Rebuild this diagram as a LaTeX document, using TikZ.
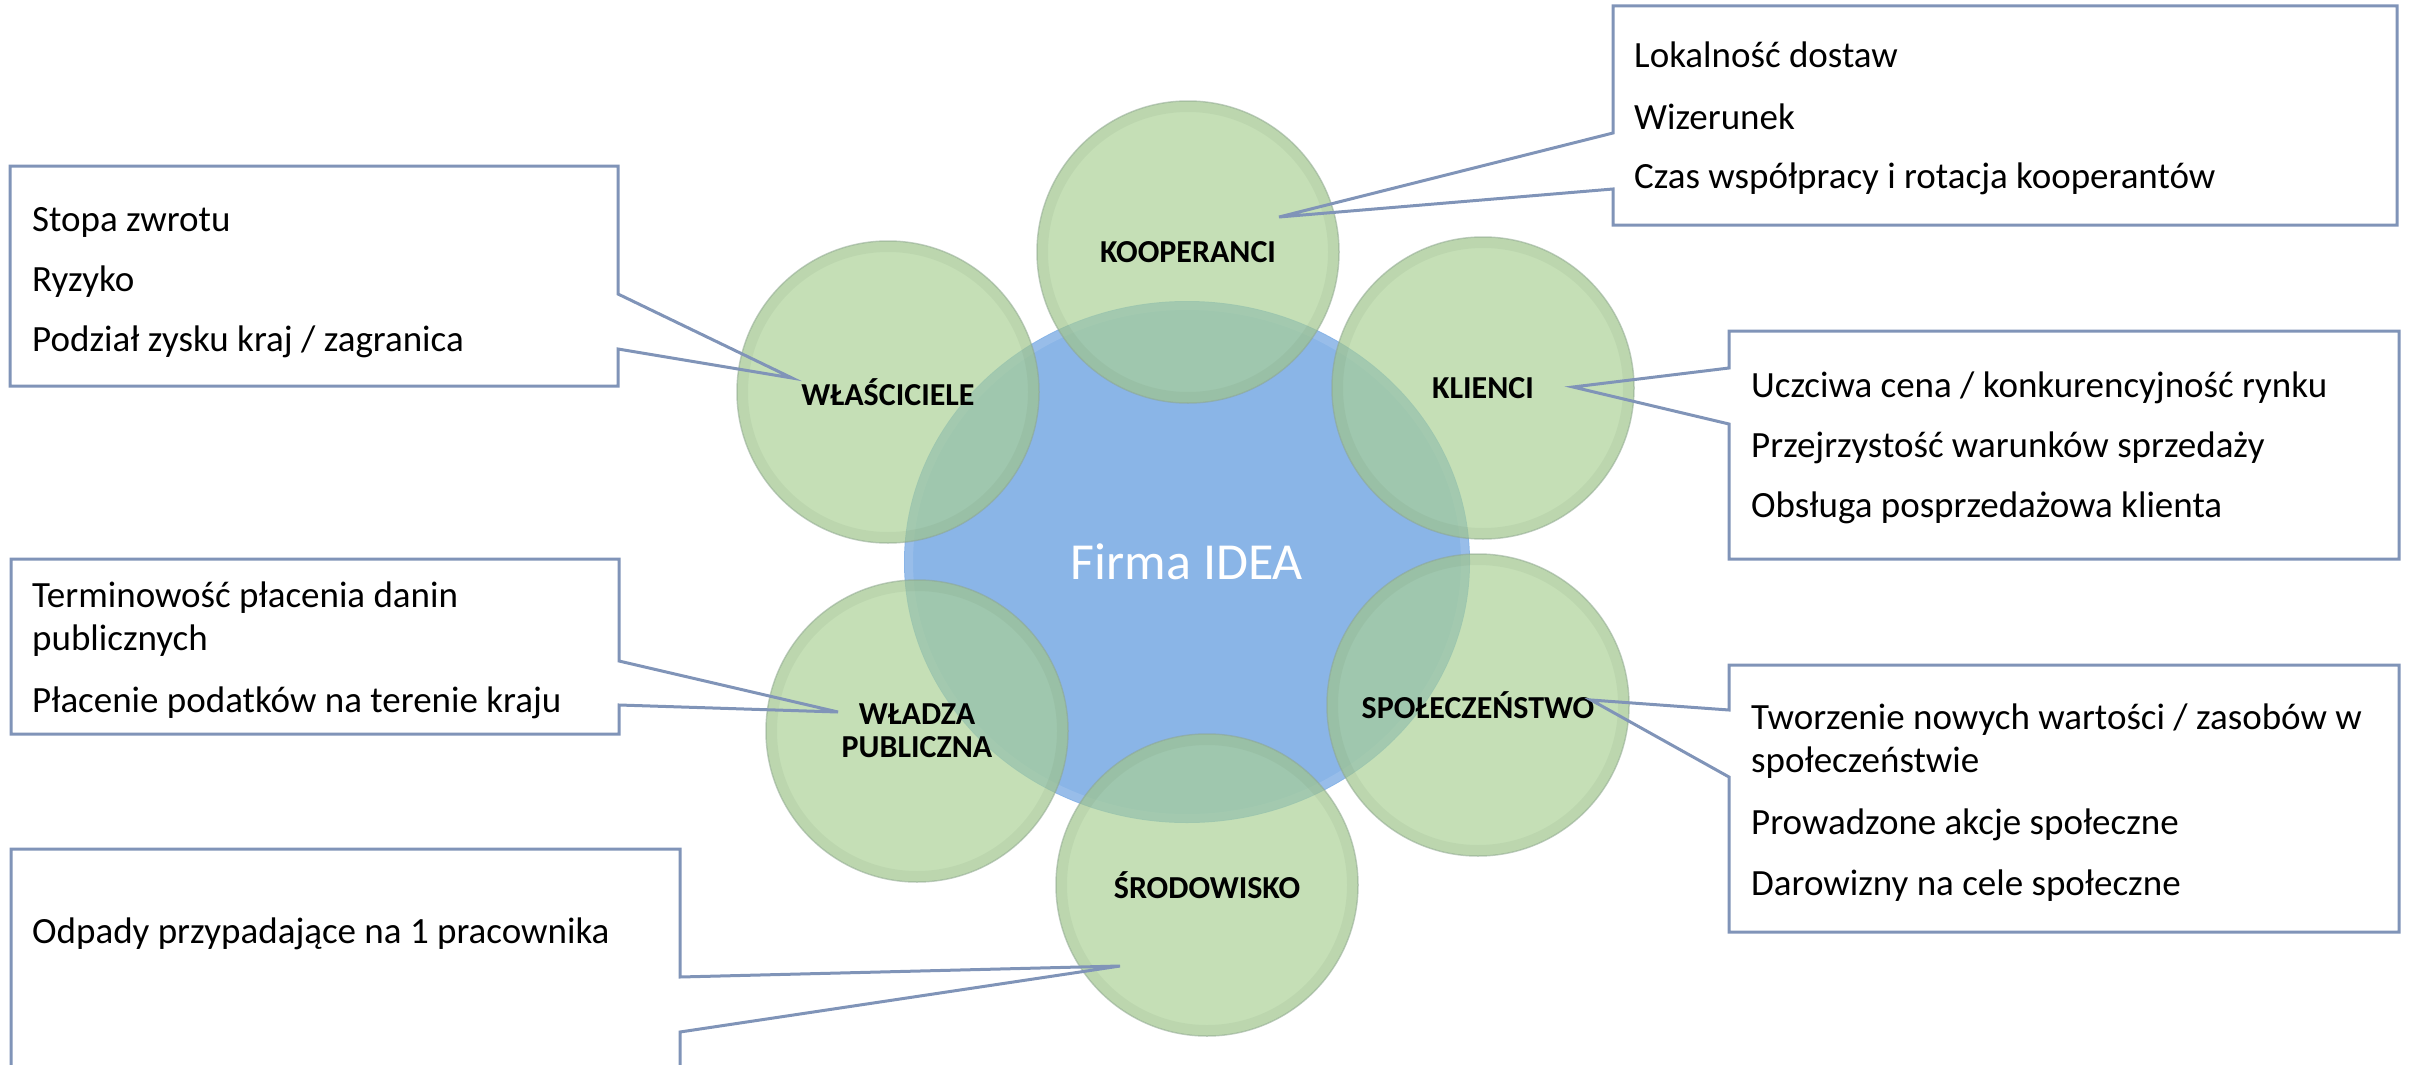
\documentclass[tikz,border=0pt]{standalone}
\usepackage{fontspec}
\setmainfont{Carlito}
\usetikzlibrary{shapes.geometric}
\definecolor{hubblue}{RGB}{138,181,231}
\definecolor{petalgreen}{RGB}{169,208,148}
\definecolor{petalrim}{RGB}{140,165,140}
\definecolor{callline}{RGB}{128,148,184}
\begin{document}
\begin{tikzpicture}[x=1pt,y=-1pt,
  hub/.style={ellipse, fill=hubblue, minimum width=566pt, minimum height=522pt, inner sep=0pt,
    text=white, font=\fontsize{52}{60}\selectfont},
  petal/.style={circle, fill=petalgreen, fill opacity=0.68, draw=petalrim, draw opacity=0.55,
    line width=1.5pt, minimum size=302pt, inner sep=0pt, text opacity=1, align=center,
    font=\fontsize{32}{35}\selectfont\bfseries},
  rimshade/.style={line width=10pt, draw=petalgreen!55!black, draw opacity=0.08},
  boxline/.style={draw=callline, line width=3pt, line join=miter},
  txt/.style={anchor=base west, inner sep=0pt, font=\fontsize{37}{44}\selectfont}
]
\useasboundingbox (0,0) rectangle (2413,1065);

% hub
\node[hub] (hub) at (1187,562) {Firma IDEA};
\draw[line width=8pt, draw=white, draw opacity=0.12] (hub.center) ellipse [x radius=278, y radius=256];

% petals
\node[petal] (kp) at (1188,252) {KOOPERANCI};
\node[petal] (wp) at (888,392) {WŁAŚCICIELE};
\node[petal] (cp) at (1483,388) {KLIENCI};
\node[petal] (sp) at (1478,705) {SPOŁECZEŃSTWO};
\node[petal] (pp) at (917,731) {WŁADZA\\[-2pt]PUBLICZNA};
\node[petal] (ep) at (1207,885) {ŚRODOWISKO};
\foreach \n in {kp,wp,cp,sp,pp,ep}
  \draw[rimshade] (\n.center) circle[radius=145];

% tips of the callouts
\coordinate (kt) at (1279,217);
\coordinate (wt) at (792,378);
\coordinate (ct) at (1573,387);
\coordinate (st) at (1591,700);
\coordinate (pt) at (838,712);
\coordinate (et) at (1120,966);

% KOOPERANCI callout
\fill[white] (1613,6) rectangle (2397,225);
\draw[boxline] (1613,133) -- (1613,6) -- (2397,6) -- (2397,225) -- (1613,225) -- (1613,189) -- (kt) -- cycle;
\node[txt] (k1) at (1634,68) {Lokalność dostaw};
\node[txt] (k2) at (1634,129) {Wizerunek};
\node[txt] (k3) at (1634,188) {Czas współpracy i rotacja kooperantów};

% WŁAŚCICIELE callout
\fill[white] (10,166) rectangle (618,386);
\draw[boxline] (618,294) -- (618,166) -- (10,166) -- (10,386) -- (618,386) -- (618,349) -- (wt) -- cycle;
\node[txt] (w1) at (32,231) {Stopa zwrotu};
\node[txt] (w2) at (32,291) {Ryzyko};
\node[txt] (w3) at (32,351) {Podział zysku kraj / zagranica};

% KLIENCI callout
\fill[white] (1729,331) rectangle (2399,559);
\draw[boxline] (1729,368) -- (1729,331) -- (2399,331) -- (2399,559) -- (1729,559) -- (1729,424) -- (ct) -- cycle;
\node[txt] (c1) at (1751,397) {Uczciwa cena / konkurencyjność rynku};
\node[txt] (c2) at (1751,457) {Przejrzystość warunków sprzedaży};
\node[txt] (c3) at (1751,517) {Obsługa posprzedażowa klienta};

% SPOŁECZEŃSTWO callout
\fill[white] (1729,665) rectangle (2399,932);
\draw[boxline] (1729,710) -- (1729,665) -- (2399,665) -- (2399,932) -- (1729,932) -- (1729,777) -- (st) -- cycle;
\node[txt] (s1) at (1751,729) {Tworzenie nowych wartości / zasobów w};
\node[txt] (s2) at (1751,772) {społeczeństwie};
\node[txt] (s3) at (1751,834) {Prowadzone akcje społeczne};
\node[txt] (s4) at (1751,895) {Darowizny na cele społeczne};

% WŁADZA PUBLICZNA callout
\fill[white] (11,559) rectangle (619,734);
\draw[boxline] (619,661) -- (619,559) -- (11,559) -- (11,734) -- (619,734) -- (619,705) -- (pt) -- cycle;
\node[txt] (p1) at (32,607) {Terminowość płacenia danin};
\node[txt] (p2) at (32,650) {publicznych};
\node[txt] (p3) at (32,712) {Płacenie podatków na terenie kraju};

% ŚRODOWISKO callout
\fill[white] (11,849) rectangle (680,1080);
\draw[boxline] (680,977) -- (680,849) -- (11,849) -- (11,1080) -- (680,1080) -- (680,1032) -- (et) -- cycle;
\node[txt] (e1) at (32,943) {Odpady przypadające na 1 pracownika};
\end{tikzpicture}
\end{document}
